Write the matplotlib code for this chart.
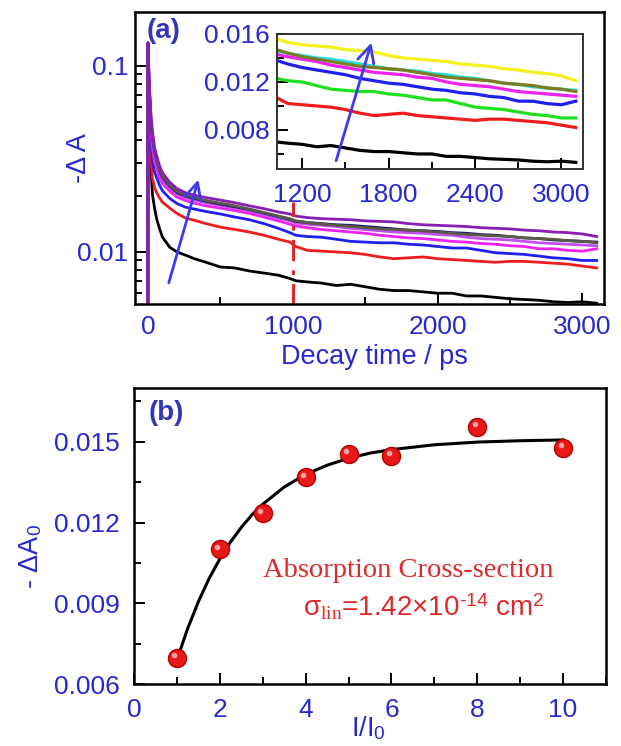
import matplotlib
matplotlib.use('Agg')
import matplotlib.pyplot as plt
from matplotlib.ticker import FixedLocator, MultipleLocator, LogLocator, NullFormatter, FormatStrFormatter
from matplotlib.transforms import offset_copy

plt.rcParams['font.family'] = ['Liberation Sans', 'DejaVu Sans']
plt.rcParams['mathtext.fontset'] = 'custom'
plt.rcParams['mathtext.rm'] = 'Liberation Sans'
plt.rcParams['mathtext.it'] = 'Liberation Serif:italic'
plt.rcParams['mathtext.sf'] = 'Liberation Sans'
plt.rcParams['mathtext.tt'] = 'Liberation Serif'

BLUE = '#2828d2'
DARKBLUE = '#3535b8'
RED = '#e02828'

# decay time grid (ps)
t = [-60, -2, 0, 5, 10, 20, 30, 45, 60, 80, 100, 150, 200, 260, 320, 400, 500, 600, 700, 800,
     900, 980, 1020, 1100, 1200, 1300, 1400, 1500, 1600, 1700, 1800, 1900, 2000, 2100, 2200,
     2300, 2400, 2500, 2600, 2700, 2800, 2900, 3000, 3100]

# -dA traces, lowest to highest pump intensity
dA_1 = [0.001, 0.001, 0.124, 0.062, 0.043, 0.0285, 0.0205, 0.0172, 0.0150, 0.0133, 0.0120, 0.0106,
        0.0100, 0.0096, 0.0092, 0.0088, 0.0083, 0.0082, 0.0079, 0.0077, 0.0075, 0.0072, 0.0070,
        0.0069, 0.0068, 0.0066, 0.0067, 0.0065, 0.0063, 0.0062, 0.0062, 0.0061, 0.0060, 0.0060,
        0.0058, 0.0058, 0.0057, 0.0056, 0.00555, 0.0055, 0.0054, 0.00535, 0.0054, 0.0053]
dA_2 = [0.001, 0.001, 0.128, 0.070, 0.050, 0.033, 0.025, 0.0222, 0.0208, 0.0195, 0.0185, 0.0172,
        0.0161, 0.0152, 0.0148, 0.0142, 0.0136, 0.0132, 0.0128, 0.0123, 0.0117, 0.0113, 0.0107,
        0.0102, 0.0101, 0.0100, 0.0099, 0.0097, 0.0094, 0.0092, 0.0093, 0.0094, 0.0092, 0.0091,
        0.0090, 0.0089, 0.0088, 0.0089, 0.0089, 0.0088, 0.0087, 0.0086, 0.0084, 0.0082]
dA_3 = [0.001, 0.001, 0.130, 0.080, 0.060, 0.039, 0.031, 0.0270, 0.0250, 0.0228, 0.0213, 0.0194,
        0.0182, 0.0174, 0.0170, 0.0165, 0.0160, 0.0154, 0.0149, 0.0142, 0.0134, 0.0127, 0.0123,
        0.0121, 0.0120, 0.0117, 0.0114, 0.0113, 0.0112, 0.0112, 0.0110, 0.0109, 0.0107, 0.0105,
        0.0105, 0.0102, 0.0099, 0.0098, 0.0097, 0.0095, 0.0093, 0.0092, 0.0090, 0.0090]
dA_4 = [0.001, 0.001, 0.131, 0.085, 0.065, 0.045, 0.036, 0.0305, 0.0280, 0.0250, 0.0233, 0.0212,
        0.0197, 0.0189, 0.0183, 0.0177, 0.0172, 0.0167, 0.0161, 0.0154, 0.0147, 0.0141, 0.0138,
        0.0135, 0.0132, 0.0130, 0.0128, 0.0126, 0.0123, 0.0121, 0.0119, 0.0118, 0.0116, 0.0114,
        0.0113, 0.0111, 0.0110, 0.0108, 0.0107, 0.0104, 0.0104, 0.0102, 0.0101, 0.0104]
dA_5 = [0.001, 0.001, 0.132, 0.090, 0.070, 0.049, 0.039, 0.0330, 0.0300, 0.0265, 0.0245, 0.0220,
        0.0204, 0.0196, 0.0190, 0.0184, 0.0178, 0.0172, 0.0166, 0.0159, 0.0152, 0.0147, 0.0143,
        0.0141, 0.0139, 0.0137, 0.0134, 0.0132, 0.0130, 0.0128, 0.0127, 0.0126, 0.0124, 0.0123,
        0.0120, 0.0118, 0.0117, 0.0116, 0.0114, 0.0112, 0.0111, 0.0110, 0.0109, 0.0108]
dA_6 = [0.001, 0.001, 0.132, 0.092, 0.072, 0.051, 0.041, 0.0342, 0.0310, 0.0273, 0.0252, 0.0226,
        0.0209, 0.0200, 0.0194, 0.0187, 0.0181, 0.0175, 0.0169, 0.0162, 0.0155, 0.0150, 0.0146,
        0.0144, 0.0142, 0.0140, 0.0139, 0.0137, 0.0135, 0.0133, 0.0131, 0.0130, 0.0129, 0.0127,
        0.0126, 0.0124, 0.0123, 0.0121, 0.0119, 0.0118, 0.0116, 0.0115, 0.0114, 0.0113]
dA_7 = [0.001, 0.001, 0.133, 0.093, 0.073, 0.052, 0.042, 0.0348, 0.0315, 0.0277, 0.0256, 0.0229,
        0.0212, 0.0202, 0.0196, 0.0189, 0.0183, 0.0177, 0.0170, 0.0163, 0.0156, 0.0151, 0.0147,
        0.0144, 0.0141, 0.0139, 0.0137, 0.0135, 0.0133, 0.0132, 0.0131, 0.0130, 0.0128, 0.0126,
        0.0124, 0.0123, 0.0122, 0.0121, 0.0119, 0.0118, 0.0117, 0.0115, 0.0114, 0.0112]
dA_8 = [0.001, 0.001, 0.134, 0.096, 0.076, 0.055, 0.045, 0.0365, 0.0328, 0.0290, 0.0266, 0.0237,
        0.0219, 0.0208, 0.0202, 0.0196, 0.0190, 0.0184, 0.0177, 0.0171, 0.0164, 0.0160, 0.0156,
        0.0153, 0.0151, 0.0150, 0.0149, 0.0147, 0.0146, 0.0145, 0.0142, 0.0140, 0.0139, 0.0138,
        0.0137, 0.0135, 0.0134, 0.0133, 0.0131, 0.0130, 0.0128, 0.0127, 0.0125, 0.0121]
traces = [dA_1, dA_2, dA_3, dA_4, dA_5, dA_6, dA_7, dA_8]

main_colors = ['black', '#ee1c1c', '#1f1fee', '#ee22ee', '#c050f0', '#1c1c6c', '#5a5a46', '#8a1eb4']
inset_colors = ['black', '#ee1c1c', '#1ee01e', '#1f1fee', '#ee22ee', '#22dede', '#7c7c24', '#f2f21a']

# -dA0 versus relative pump intensity
I_rel = [1, 2, 3, 4, 5, 6, 8, 10]
dA0 = [0.00698, 0.01100, 0.01234, 0.01368, 0.01455, 0.01447, 0.01556, 0.01478]

# saturation fit line
I_fit = [1, 1.25, 1.5, 1.75, 2, 2.25, 2.5, 2.75, 3, 3.5, 4, 4.5, 5, 5.5, 6, 7, 8, 9, 10]
dA0_fit = [0.00690, 0.00806, 0.00906, 0.00992, 0.01065, 0.01128, 0.01182, 0.01229, 0.01268,
           0.01332, 0.01379, 0.01413, 0.01439, 0.01458, 0.01471, 0.01489, 0.01499, 0.01504, 0.01507]

t_mark = 1000
mark_top = 0.0185

FS = 19

fig = plt.figure(figsize=(6.21, 7.46), dpi=100)


def style_axes(ax, lw=1.8, pad=6):
    for s in ax.spines.values():
        s.set_linewidth(lw)
    ax.tick_params(which='both', direction='in', top=False, right=False,
                   labelsize=FS, labelcolor=BLUE, pad=pad, width=1.4)
    ax.tick_params(which='major', length=8)
    ax.tick_params(which='minor', length=5)


# (a) transient decays
ax1 = fig.add_axes([0.2174, 0.5925, 0.7552, 0.3914])
for y, c in zip(traces, main_colors):
    ax1.plot(t, y, color=c, lw=2.0)
ax1.plot([t_mark, t_mark], [0.0052, mark_top], color=RED, lw=2.2, ls=(0, (7, 3, 1.5, 3)))
ax1.set_yscale('log')
ax1.set_xlim(-90, 3150)
ax1.set_ylim(0.00525, 0.195)
ax1.yaxis.set_major_locator(FixedLocator([0.01, 0.1]))
ax1.yaxis.set_major_formatter(FormatStrFormatter('%g'))
ax1.yaxis.set_minor_locator(LogLocator(base=10, subs=range(2, 10)))
ax1.yaxis.set_minor_formatter(NullFormatter())
ax1.xaxis.set_major_locator(MultipleLocator(1000))
ax1.xaxis.set_minor_locator(MultipleLocator(500))
style_axes(ax1, pad=5)
ax1.tick_params(axis='x', pad=8)
ax1.set_xlabel('Decay time / ps', fontsize=19.5, color=BLUE, va='center')
ax1.xaxis.set_label_coords(0.51, -0.18)
ax1.set_ylabel('-Δ A', fontsize=19.5, color=BLUE, va='center')
ax1.yaxis.set_label_coords(-0.12, 0.5)
ax1.text(0.06, 0.935, '(a)', transform=ax1.transAxes, fontsize=20, fontweight='bold',
         color=DARKBLUE, ha='center', va='center')
ax1.annotate('', xy=(353, 0.0253), xytext=(138, 0.0066),
             arrowprops=dict(arrowstyle='->,head_length=0.6,head_width=0.3',
                             color='#3b3bf0', lw=2, mutation_scale=20))

# inset: late-time part
ax2 = fig.add_axes([0.4461, 0.7735, 0.4928, 0.181])
for y, c in zip(traces, inset_colors):
    ax2.plot(t, y, color=c, lw=2.3)
ax2.set_xlim(1025, 3150)
ax2.set_ylim(0.00475, 0.016)
ax2.yaxis.set_major_locator(FixedLocator([0.008, 0.012, 0.016]))
ax2.yaxis.set_major_formatter(FormatStrFormatter('%.3f'))
ax2.yaxis.set_minor_locator(MultipleLocator(0.002))
ax2.xaxis.set_major_locator(FixedLocator([1200, 1800, 2400, 3000]))
ax2.xaxis.set_minor_locator(MultipleLocator(300))
style_axes(ax2, lw=1.4, pad=5)
ax2.tick_params(axis='x', pad=10)
for s in ax2.spines.values():
    s.set_color('#333333')
ax2.annotate('', xy=(1686, 0.0155), xytext=(1430, 0.00522),
             arrowprops=dict(arrowstyle='->,head_length=0.6,head_width=0.3',
                             color='#3b3bf0', lw=2, mutation_scale=20))

# (b) initial bleaching vs intensity
ax3 = fig.add_axes([0.2158, 0.0831, 0.7601, 0.3968])
ax3.plot(I_fit, dA0_fit, color='black', lw=2.2, zorder=2)
ax3.plot(I_rel, dA0, 'o', ms=13, mfc='#e81818', mec='#b00000', mew=1, zorder=3)
shine = offset_copy(ax3.transData, fig=fig, x=-1.8, y=2.0, units='points')
ax3.plot(I_rel, dA0, 'o', ms=4, mfc='#ffa0a0', mec='none', transform=shine, zorder=4)
ax3.set_xlim(0, 11)
ax3.set_ylim(0.006, 0.017)
ax3.xaxis.set_major_locator(MultipleLocator(2))
ax3.xaxis.set_minor_locator(MultipleLocator(1))
ax3.yaxis.set_major_locator(FixedLocator([0.006, 0.009, 0.012, 0.015]))
ax3.yaxis.set_major_formatter(FormatStrFormatter('%.3f'))
ax3.yaxis.set_minor_locator(MultipleLocator(0.0015))
style_axes(ax3, pad=10)
ax3.set_xlabel('I/I$_{\\mathsf{0}}$', fontsize=19.5, color=BLUE, va='center')
ax3.xaxis.set_label_coords(0.496, -0.15)
ax3.set_ylabel('- ΔA$_{\\mathsf{0}}$', fontsize=19.5, color=BLUE, va='center')
ax3.yaxis.set_label_coords(-0.22, 0.43)
ax3.text(0.068, 0.916, '(b)', transform=ax3.transAxes, fontsize=20, fontweight='bold',
         color=DARKBLUE, ha='center', va='center')
ax3.text(0.58, 0.385, 'Absorption Cross-section', transform=ax3.transAxes, fontsize=20.5,
         family='Liberation Serif', color=RED, ha='center', va='center')
ax3.text(0.614, 0.26, 'σ$_{\\mathtt{lin}}$=1.42×10$^{\\text{-}14}$ cm$^{2}$',
         transform=ax3.transAxes, fontsize=20, color=RED, ha='center', va='center')

fig.savefig('out.png', dpi=100)
